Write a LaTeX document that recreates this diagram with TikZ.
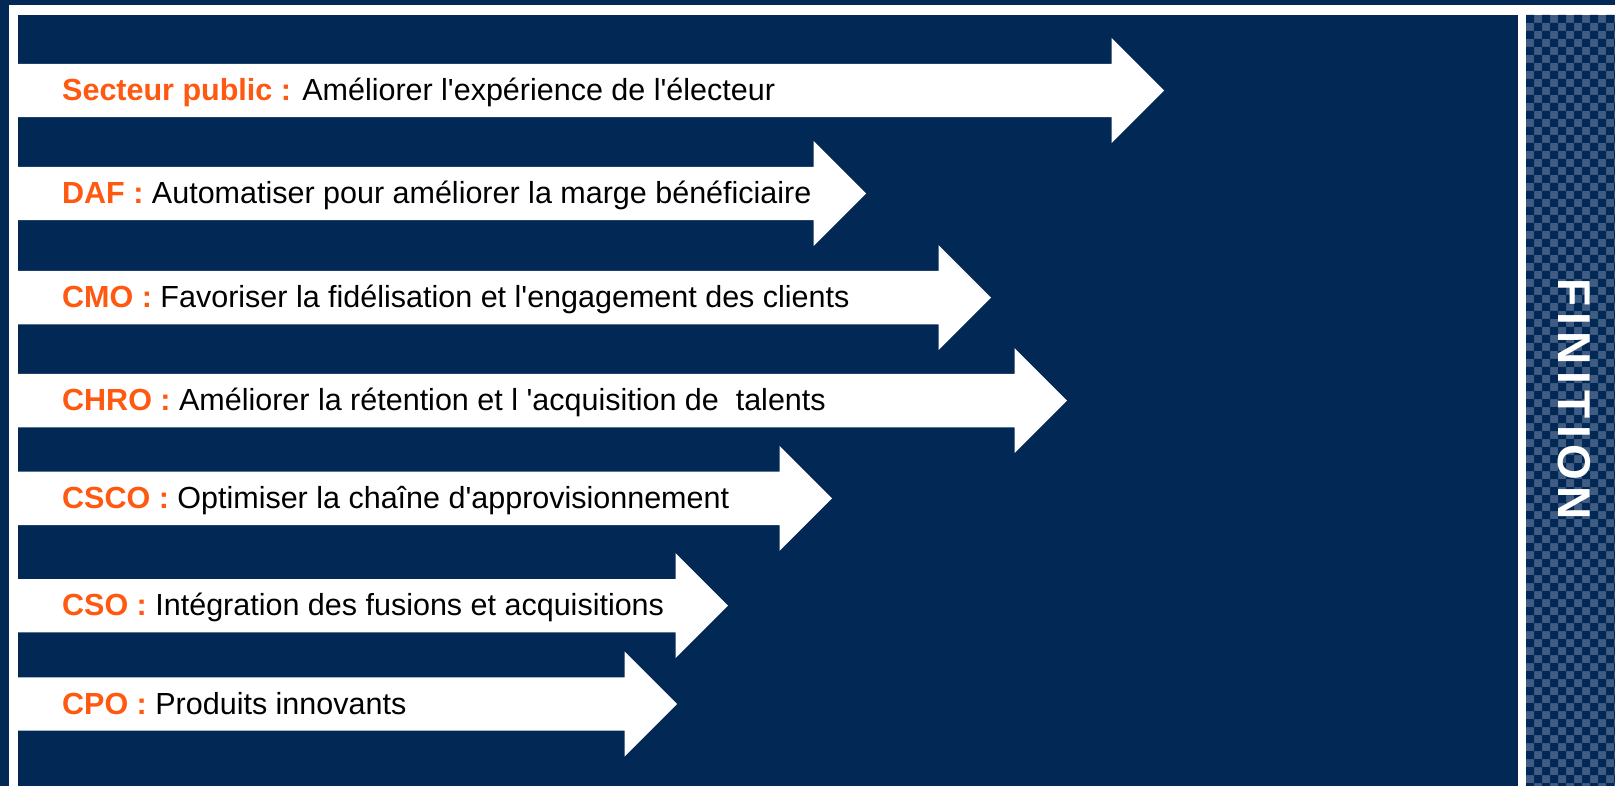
\documentclass[tikz,border=0pt]{standalone}
\usepackage{fontspec}
\setmainfont{Liberation Sans}[Ligatures=TeXOff]
\newfontfamily\finfont{Liberation Sans}[LetterSpace=14]
\usepackage{tikz}
\usetikzlibrary{positioning}

\definecolor{Navy}{RGB}{2,40,86}
\definecolor{Slate}{RGB}{64,92,130}
\definecolor{Tangerine}{RGB}{255,88,16}

\begin{document}
\begin{tikzpicture}[
                    x=1pt, y=-1pt,
                    panel/.style = {fill=Navy},
                    bar/.style   = {fill=white},
                    tile/.style  = {fill=Navy},
                    lbl/.style   = {anchor=base west, inner sep=0pt, font=\fontsize{30.5}{36}\selectfont},
                    title/.style = {rotate=-90, inner sep=0pt, text=white, font=\finfont\fontsize{46}{52}\selectfont\bfseries}
                    ]
\tikzset{
  role/.style={text=Tangerine, font=\bfseries}
}

\useasboundingbox (0,0) rectangle (1615,786);

\fill[panel] (0,0) rectangle (1615,786);
\fill[white] (9,5) rectangle (1615,786);
\fill[panel] (18,15) rectangle (1518,786);
\fill[Slate] (1526,15) rectangle (1615,786);

\begin{scope}
  \clip (1526,15) rectangle (1615,786);
  \foreach \i in {0,2,...,10}
    \foreach \j in {0,2,...,96}
      \fill[tile] (1526+8*\i,15+8*\j) rectangle +(8,8)
                  (1534+8*\i,23+8*\j) rectangle +(8,8);
\end{scope}

\foreach \n/\y/\tip/\who/\what in {
    1/90.5/1164/Secteur public :/Améliorer l'expérience de l'électeur,
    2/193.5/866/DAF :/Automatiser pour améliorer la marge bénéficiaire,
    3/297.7/991/CMO :/Favoriser la fidélisation et l'engagement des clients,
    4/400.7/1067/CHRO :/Améliorer la rétention et l 'acquisition de~ talents,
    5/498.3/832/CSCO :/Optimiser la chaîne d'approvisionnement,
    6/605.7/728/CSO :/Intégration des fusions et acquisitions,
    7/704/677/CPO :/Produits innovants}
{
  \fill[bar] (18,\y-26.7) -- (\tip-52.5,\y-26.7) -- (\tip-52.5,\y-52.5) -- (\tip,\y)
          -- (\tip-52.5,\y+52.5) -- (\tip-52.5,\y+26.7) -- (18,\y+26.7) -- cycle;
  \node[lbl] (t\n) at (62,\y+10) {\textcolor{Tangerine}{\bfseries\who} \what};
}

\node[title] (finition) at (1574,399) {FINITION};
\end{tikzpicture}
\end{document}
